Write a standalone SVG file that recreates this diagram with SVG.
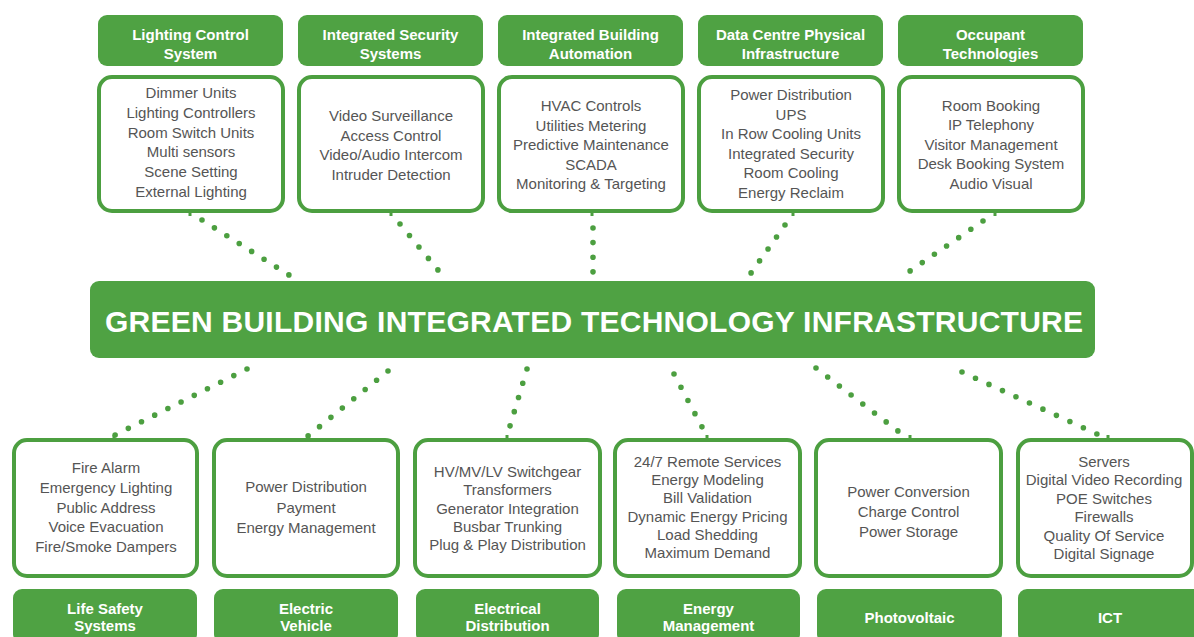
<svg xmlns="http://www.w3.org/2000/svg" width="1194" height="637" viewBox="0 0 1194 637">
<style>
.hdr{fill:#4fa243}
.box{fill:#fff;stroke:#4c9f40;stroke-width:4}
.ht{font-family:"Liberation Sans",Arial,sans-serif;font-weight:bold;font-size:15px;fill:#fff;text-anchor:middle}
.it{font-family:"Liberation Sans",Arial,sans-serif;font-size:15px;fill:#555;text-anchor:middle}
.main{font-family:"Liberation Sans",Arial,sans-serif;font-weight:bold;font-size:30px;fill:#fff;text-anchor:middle}
.dot{fill:none;stroke:#4c9f40;stroke-width:5.6;stroke-linecap:round;stroke-dasharray:0 1}
.tick{stroke:#4c9f40;stroke-width:3}
</style>
<rect width="1194" height="637" fill="#fff"/>
<g id="connectors">
<path class="dot" d="M202 220L289 275" pathLength="7.01"/>
<path class="dot" d="M400 224L438 270" pathLength="4.01"/>
<path class="dot" d="M593 228L593 272" pathLength="3.01"/>
<path class="dot" d="M785 225L751 273" pathLength="4.01"/>
<path class="dot" d="M983 221L910 271" pathLength="6.01"/>
<path class="dot" d="M247 369L115 435" pathLength="10.01"/>
<path class="dot" d="M388 371L308 436" pathLength="7.01"/>
<path class="dot" d="M527 369L510 426" pathLength="4.01"/>
<path class="dot" d="M674 374L702 427" pathLength="4.01"/>
<path class="dot" d="M816 368L898 431" pathLength="7.01"/>
<path class="dot" d="M962 372L1097 434" pathLength="10.01"/>
<path class="tick" d="M190 212v4M391 212v4M592 212v4M793 212v4M995 212v4M114 435v4M308 435v4M507 435v4M707 435v4M910 435v4M1108 435v4"/>
</g>
<g id="center">
<rect class="hdr" x="90" y="281" width="1005" height="77" rx="9"/>
<text class="main" x="594" y="332" textLength="978" lengthAdjust="spacing">GREEN BUILDING INTEGRATED TECHNOLOGY INFRASTRUCTURE</text>
</g>
<g id="lighting">
<rect class="hdr" x="98" y="15" width="185" height="51" rx="9"/>
<text class="ht" x="190.5" y="39.5">Lighting Control</text>
<text class="ht" x="190.5" y="58.5">System</text>
<rect class="box" x="99" y="77" width="184" height="134" rx="13"/>
<text class="it" x="191" y="98">Dimmer Units</text>
<text class="it" x="191" y="117.8">Lighting Controllers</text>
<text class="it" x="191" y="137.6">Room Switch Units</text>
<text class="it" x="191" y="157.4">Multi sensors</text>
<text class="it" x="191" y="177.2">Scene Setting</text>
<text class="it" x="191" y="197">External Lighting</text>
</g>
<g id="security">
<rect class="hdr" x="298" y="15" width="185" height="51" rx="9"/>
<text class="ht" x="390.5" y="39.5">Integrated Security</text>
<text class="ht" x="390.5" y="58.5">Systems</text>
<rect class="box" x="299" y="77" width="184" height="134" rx="13"/>
<text class="it" x="391" y="121">Video Surveillance</text>
<text class="it" x="391" y="140.7">Access Control</text>
<text class="it" x="391" y="160.4">Video/Audio Intercom</text>
<text class="it" x="391" y="180">Intruder Detection</text>
</g>
<g id="automation">
<rect class="hdr" x="498" y="15" width="185" height="51" rx="9"/>
<text class="ht" x="590.5" y="39.5">Integrated Building</text>
<text class="ht" x="590.5" y="58.5">Automation</text>
<rect class="box" x="499" y="77" width="184" height="134" rx="13"/>
<text class="it" x="591" y="111">HVAC Controls</text>
<text class="it" x="591" y="130.5">Utilities Metering</text>
<text class="it" x="591" y="150">Predictive Maintenance</text>
<text class="it" x="591" y="169.5">SCADA</text>
<text class="it" x="591" y="189">Monitoring &amp; Targeting</text>
</g>
<g id="datacentre">
<rect class="hdr" x="698" y="15" width="185" height="51" rx="9"/>
<text class="ht" x="790.5" y="39.5">Data Centre Physical</text>
<text class="ht" x="790.5" y="58.5">Infrastructure</text>
<rect class="box" x="699" y="77" width="184" height="134" rx="13"/>
<text class="it" x="791" y="100">Power Distribution</text>
<text class="it" x="791" y="119.6">UPS</text>
<text class="it" x="791" y="139.2">In Row Cooling Units</text>
<text class="it" x="791" y="158.8">Integrated Security</text>
<text class="it" x="791" y="178.4">Room Cooling</text>
<text class="it" x="791" y="198">Energy Reclaim</text>
</g>
<g id="occupant">
<rect class="hdr" x="898" y="15" width="185" height="51" rx="9"/>
<text class="ht" x="990.5" y="39.5">Occupant</text>
<text class="ht" x="990.5" y="58.5">Technologies</text>
<rect class="box" x="899" y="77" width="184" height="134" rx="13"/>
<text class="it" x="991" y="111">Room Booking</text>
<text class="it" x="991" y="130.4">IP Telephony</text>
<text class="it" x="991" y="149.8">Visitor Management</text>
<text class="it" x="991" y="169.2">Desk Booking System</text>
<text class="it" x="991" y="188.6">Audio Visual</text>
</g>
<g id="lifesafety">
<rect class="box" x="14" y="440" width="183" height="136" rx="13"/>
<text class="it" x="106" y="473">Fire Alarm</text>
<text class="it" x="106" y="492.8">Emergency Lighting</text>
<text class="it" x="106" y="512.5">Public Address</text>
<text class="it" x="106" y="532.3">Voice Evacuation</text>
<text class="it" x="106" y="552">Fire/Smoke Dampers</text>
<rect class="hdr" x="13" y="589" width="184" height="54" rx="9"/>
<text class="ht" x="105" y="613.5">Life Safety</text>
<text class="ht" x="105" y="630.5">Systems</text>
</g>
<g id="ev">
<rect class="box" x="214" y="440" width="184" height="136" rx="13"/>
<text class="it" x="306" y="492">Power Distribution</text>
<text class="it" x="306" y="512.5">Payment</text>
<text class="it" x="306" y="533">Energy Management</text>
<rect class="hdr" x="214" y="589" width="184" height="54" rx="9"/>
<text class="ht" x="306" y="613.5">Electric</text>
<text class="ht" x="306" y="630.5">Vehicle</text>
</g>
<g id="electrical">
<rect class="box" x="415" y="440" width="185" height="136" rx="13"/>
<text class="it" x="507.5" y="477">HV/MV/LV Switchgear</text>
<text class="it" x="507.5" y="495">Transformers</text>
<text class="it" x="507.5" y="513.5">Generator Integration</text>
<text class="it" x="507.5" y="531.5">Busbar Trunking</text>
<text class="it" x="507.5" y="549.5">Plug &amp; Play Distribution</text>
<rect class="hdr" x="416" y="589" width="183" height="54" rx="9"/>
<text class="ht" x="507.5" y="613.5">Electrical</text>
<text class="ht" x="507.5" y="630.5">Distribution</text>
</g>
<g id="energy">
<rect class="box" x="615" y="440" width="185" height="136" rx="13"/>
<text class="it" x="707.5" y="467">24/7 Remote Services</text>
<text class="it" x="707.5" y="485.2">Energy Modeling</text>
<text class="it" x="707.5" y="503.4">Bill Validation</text>
<text class="it" x="707.5" y="521.6">Dynamic Energy Pricing</text>
<text class="it" x="707.5" y="539.8">Load Shedding</text>
<text class="it" x="707.5" y="558">Maximum Demand</text>
<rect class="hdr" x="617" y="589" width="183" height="54" rx="9"/>
<text class="ht" x="708.5" y="613.5">Energy</text>
<text class="ht" x="708.5" y="630.5">Management</text>
</g>
<g id="pv">
<rect class="box" x="816" y="440" width="185" height="136" rx="13"/>
<text class="it" x="908.5" y="497">Power Conversion</text>
<text class="it" x="908.5" y="517">Charge Control</text>
<text class="it" x="908.5" y="537">Power Storage</text>
<rect class="hdr" x="817" y="589" width="185" height="54" rx="9"/>
<text class="ht" x="909.5" y="622.5">Photovoltaic</text>
</g>
<g id="ict">
<rect class="box" x="1018" y="440" width="174" height="136" rx="13"/>
<text class="it" x="1104" y="467">Servers</text>
<text class="it" x="1104" y="485.4">Digital Video Recording</text>
<text class="it" x="1104" y="503.8">POE Switches</text>
<text class="it" x="1104" y="522.2">Firewalls</text>
<text class="it" x="1104" y="540.6">Quality Of Service</text>
<text class="it" x="1104" y="559">Digital Signage</text>
<rect class="hdr" x="1018" y="589" width="185" height="54" rx="9"/>
<text class="ht" x="1110" y="622.5">ICT</text>
</g>
</svg>
